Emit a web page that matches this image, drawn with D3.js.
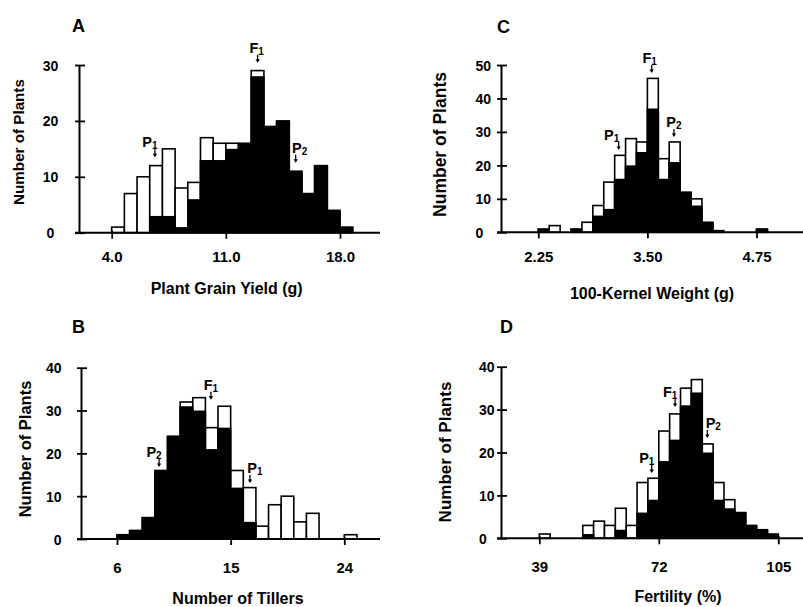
<!DOCTYPE html>
<html><head><meta charset="utf-8">
<script src="https://cdn.jsdelivr.net/npm/d3@7"></script>
<style>
body{margin:0;background:#fff}
svg{display:block}
text{font-family:"Liberation Sans",Arial,Helvetica,sans-serif;fill:#000}
</style>
</head><body>
<svg id="chart" width="803" height="607"></svg>
<script>
// ---------- DATA ----------
// Panel A: Plant grain yield (g)
const yieldBinStart = 4.0, yieldBinWidth = 7 / 9;
const yieldTotal = [1, 7, 10, 12, 15, 8, 9, 17, 16, 16, 16, 29, 19, 20, 11, 7, 12, 4, 1];
const yieldBlack = [0, 0, 0, 3, 3, 1, 6, 13, 13, 15, 16, 28, 19, 20, 11, 7, 12, 4, 1];
const yieldTicks = [4.0, 11.0, 18.0];
const yieldCountTicks = [0, 10, 20, 30];
const yieldMarkers = [
  {name: "P", sub: "1", x: 6.65, level: 13.5},
  {name: "F", sub: "1", x: 12.95, level: 30.4},
  {name: "P", sub: "2", x: 15.28, level: 12.5}
];

// Panel B: Number of tillers
const tillerBinStart = 6, tillerBinWidth = 1;
const tillerTotal = [1, 2, 5, 16, 24, 32, 33, 26, 31, 16, 12, 3, 8, 10, 4, 6, 0, 0, 1];
const tillerBlack = [1, 2, 5, 16, 24, 31, 30, 21, 26, 12, 4, 0, 0, 0, 0, 0, 0, 0, 0];
const tillerTicks = [6, 15, 24];
const tillerCountTicks = [0, 10, 20, 30, 40];
const tillerMarkers = [
  {name: "P", sub: "2", x: 9.33, level: 16.8},
  {name: "F", sub: "1", x: 13.44, level: 32.5},
  {name: "P", sub: "1", x: 16.53, level: 13.1}
];

// Panel C: 100-kernel weight (g)
const kernelBinStart = 2.25, kernelBinWidth = 0.125;
const kernelTotal = [1, 2, 0, 1, 3, 8, 15, 23, 28, 27, 46, 22, 27, 12, 10, 3, 0.5, 0, 0, 0, 1];
const kernelBlack = [1, 0, 0, 1, 0, 5, 7, 16, 20, 24, 37, 16, 21, 12, 8, 3, 0.5, 0, 0, 0, 1];
const kernelTicks = [2.25, 3.50, 4.75];
const kernelCountTicks = [0, 10, 20, 30, 40, 50];
const kernelMarkers = [
  {name: "P", sub: "1", x: 3.171, level: 24.6},
  {name: "F", sub: "1", x: 3.549, level: 47.6},
  {name: "P", sub: "2", x: 3.804, level: 28.5}
];

// Panel D: Fertility (%)
const fertBinStart = 39, fertBinWidth = 3;
const fertTotal = [1, 0, 0, 0, 3, 4, 3, 7, 3, 13, 14, 25, 29, 35, 37, 22, 13, 9, 6, 3, 2, 1];
const fertBlack = [0, 0, 0, 0, 1, 0, 0, 2, 0, 6, 9, 18, 23, 31, 34, 20, 9, 7, 6, 3, 2, 1];
const fertTicks = [39, 72, 105];
const fertCountTicks = [0, 10, 20, 30, 40];
const fertMarkers = [
  {name: "P", sub: "1", x: 70.05, level: 15.2},
  {name: "F", sub: "1", x: 76.5, level: 30.6},
  {name: "P", sub: "2", x: 85.4, level: 23.4}
];

// ---------- LAYOUT ----------
const panels = [
  {letter: "A", letterPos: [72, 32], title: "Plant Grain Yield (g)", titlePos: [226.7, 294],
   ylabPos: [18.5, 142], ylabSize: 15.2, labelShift: [-5, -1, 4],
   start: yieldBinStart, width: yieldBinWidth, total: yieldTotal, black: yieldBlack,
   xTicks: yieldTicks, yTicks: yieldCountTicks, markers: yieldMarkers, fmt: d3.format(".1f"),
   xPx: [111.7, 340], yPx: [232.7, 65], axisX: 79, axisEnd: 380,
   xLabY: 262, yLabX: 50.5, yLabAnchor: "middle"},
  {letter: "B", letterPos: [72, 333], title: "Number of Tillers", titlePos: [238, 604],
   ylabPos: [25, 449], ylabSize: 16.5, labelShift: [-5, 0, 5],
   start: tillerBinStart, width: tillerBinWidth, total: tillerTotal, black: tillerBlack,
   xTicks: tillerTicks, yTicks: tillerCountTicks, markers: tillerMarkers, fmt: d3.format("d"),
   xPx: [117, 344.3], yPx: [539, 367.7], axisX: 81, axisEnd: 380,
   xLabY: 573, yLabX: 61.5, yLabAnchor: "end"},
  {letter: "C", letterPos: [497, 33], title: "100-Kernel Weight (g)", titlePos: [652, 299],
   ylabPos: [440, 144.5], ylabSize: 17.5, labelShift: [-7, -2, 0],
   start: kernelBinStart, width: kernelBinWidth, total: kernelTotal, black: kernelBlack,
   xTicks: kernelTicks, yTicks: kernelCountTicks, markers: kernelMarkers, fmt: d3.format(".2f"),
   xPx: [538.3, 756.5], yPx: [232.3, 65], axisX: 501, axisEnd: 803,
   xLabY: 262, yLabX: 475.5, yLabAnchor: "start"},
  {letter: "D", letterPos: [500, 333], title: "Fertility (%)", titlePos: [678, 602],
   ylabPos: [445, 452], ylabSize: 17, labelShift: [-5, -5, 6],
   start: fertBinStart, width: fertBinWidth, total: fertTotal, black: fertBlack,
   xTicks: fertTicks, yTicks: fertCountTicks, markers: fertMarkers, fmt: d3.format("d"),
   xPx: [539.3, 778.3], yPx: [538.3, 366.7], axisX: 501, axisEnd: 803,
   xLabY: 572, yLabX: 479, yLabAnchor: "start"}
];

const svg = d3.select("#chart");

panels.forEach(p => {
  const g = svg.append("g");
  const x = d3.scaleLinear().domain([p.xTicks[0], p.xTicks[p.xTicks.length - 1]]).range(p.xPx);
  const y = d3.scaleLinear().domain([0, p.yTicks[p.yTicks.length - 1]]).range(p.yPx);

  const bins = p.total.map((t, i) => ({
    x0: p.start + i * p.width, x1: p.start + (i + 1) * p.width, total: t, black: p.black[i]
  }));

  // white (total) bars with outline
  g.append("g").selectAll("rect").data(bins.filter(d => d.total > 0)).join("rect")
    .attr("x", d => x(d.x0)).attr("width", d => x(d.x1) - x(d.x0))
    .attr("y", d => y(d.total)).attr("height", d => y(0) - y(d.total))
    .attr("fill", "#fff").attr("stroke", "#000").attr("stroke-width", 1.6);
  // black portion
  g.append("g").selectAll("rect").data(bins.filter(d => d.black > 0)).join("rect")
    .attr("x", d => x(d.x0) - 0.8).attr("width", d => x(d.x1) - x(d.x0) + 1.6)
    .attr("y", d => y(d.black)).attr("height", d => y(0) - y(d.black))
    .attr("fill", "#000");

  // x axis
  const xa = g.append("g").attr("transform", `translate(0,${y(0)})`)
    .call(d3.axisBottom(x).tickValues(p.xTicks).tickFormat(p.fmt).tickSize(6).tickSizeOuter(0));
  xa.select(".domain").remove();
  xa.selectAll(".tick line").attr("stroke-width", 1.8).attr("y1", -2);
  xa.selectAll(".tick text").attr("y", p.xLabY - y(0)).attr("dy", 0)
    .attr("font-size", 15).attr("font-weight", "bold").attr("font-family", null);
  g.append("line").attr("x1", p.axisX - 4).attr("x2", p.axisEnd)
    .attr("y1", y(0)).attr("y2", y(0)).attr("stroke", "#000").attr("stroke-width", 2);

  // y axis
  const ya = g.append("g").attr("transform", `translate(${p.axisX},0)`)
    .call(d3.axisLeft(y).tickValues(p.yTicks).tickFormat(d3.format("d")).tickSize(4).tickSizeOuter(0));
  ya.select(".domain").attr("stroke-width", 2);
  ya.selectAll(".tick line").attr("x2", -4).attr("x1", 6).attr("stroke-width", 1.8);
  ya.selectAll(".tick text").attr("x", p.yLabX - p.axisX).attr("text-anchor", p.yLabAnchor)
    .attr("dy", "0.36em").attr("font-size", 14).attr("font-weight", "bold").attr("font-family", null);

  // markers (parents / F1)
  const mk = g.append("g").selectAll("g").data(p.markers).join("g")
    .attr("transform", d => `translate(${x(d.x)},${y(d.level)})`);
  mk.append("line").attr("x1", 0).attr("x2", 0).attr("y1", -8).attr("y2", -2)
    .attr("stroke", "#000").attr("stroke-width", 1.3);
  mk.append("path").attr("d", "M-2.2,-3.5 L2.2,-3.5 L0,0 Z").attr("fill", "#000");
  const t = mk.append("text").attr("x", (d, i) => p.labelShift[i]).attr("y", -10).attr("text-anchor", "middle")
    .attr("font-size", 14.5).attr("font-weight", "bold");
  t.append("tspan").text(d => d.name);
  t.append("tspan").attr("font-size", 10).attr("dy", 2).text(d => d.sub);

  // labels
  g.append("text").attr("x", p.letterPos[0]).attr("y", p.letterPos[1])
    .attr("font-size", 18).attr("font-weight", "bold").text(p.letter);
  g.append("text").attr("x", p.titlePos[0]).attr("y", p.titlePos[1]).attr("text-anchor", "middle")
    .attr("font-size", 16).attr("font-weight", "bold").text(p.title);
  g.append("text").attr("transform", `translate(${p.ylabPos[0]},${p.ylabPos[1]}) rotate(-90)`)
    .attr("text-anchor", "middle").attr("dy", "0.36em")
    .attr("font-size", p.ylabSize).attr("font-weight", "bold").text("Number of Plants");
});
</script>
</body></html>
